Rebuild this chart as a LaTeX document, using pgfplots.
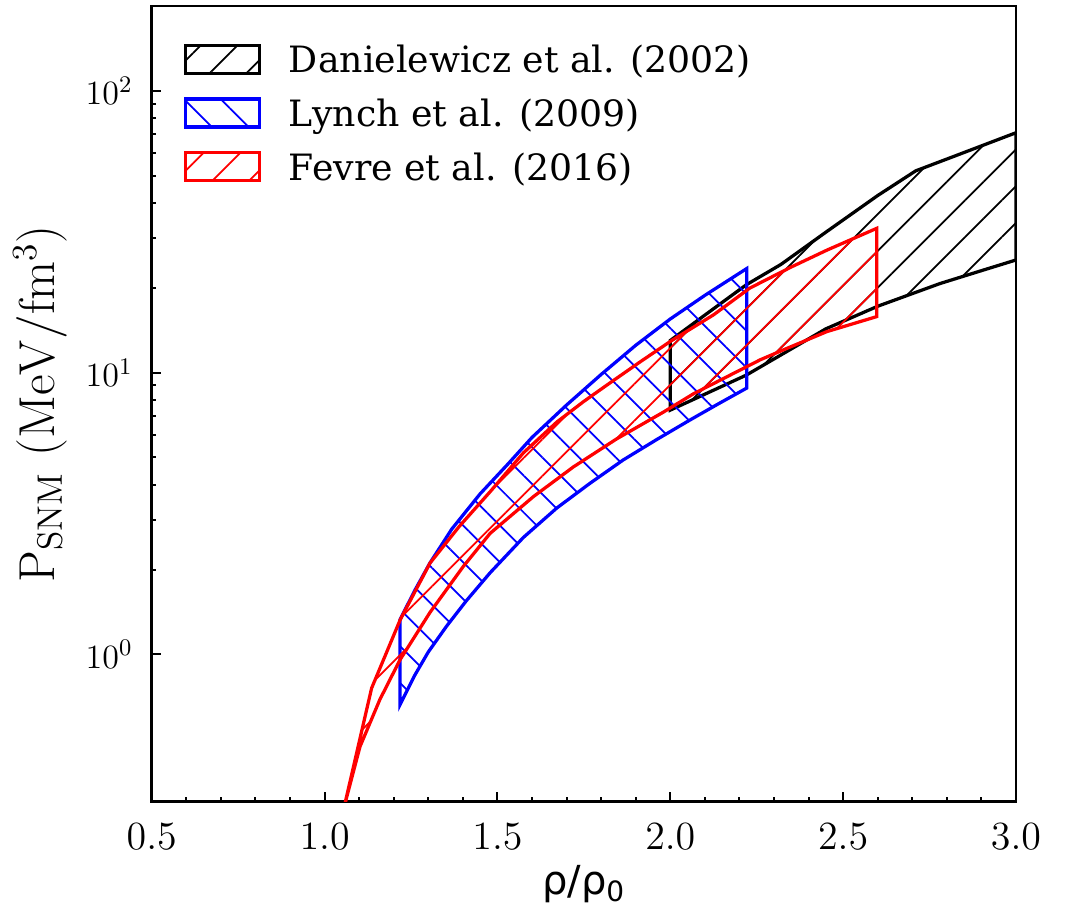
\RequirePackage{fix-cm}
\documentclass[border=0pt]{standalone}
\usepackage[no-math]{fontspec}
\setmainfont{DejaVu Serif}
\newfontfamily\dvsans{DejaVu Sans}
\usepackage{pgfplots}
\pgfplotsset{compat=1.18}
\usetikzlibrary{patterns.meta}
\begin{document}
\begin{tikzpicture}
\begin{axis}[
  at={(0,0)}, anchor=south west,
  scale only axis, width=345.7pt, height=318.3pt,
  xmin=0.5, xmax=3, ymin=0.3, ymax=200, ymode=log,
  xtick={0.5,1,1.5,2,2.5,3}, minor x tick num=4,
  ytick={1,10,100},
  xtick pos=bottom, ytick pos=left,
  tick align=inside,
  major tick length=3.8pt, minor tick length=1.8pt,
  every tick/.style={black, line width=0.8pt},
  axis line style={line width=1pt},
  tick label style={inner sep=0pt},
  xticklabel style={font=\fontsize{16}{19}\selectfont, /pgf/number format/.cd, fixed, fixed zerofill, precision=1},
  yticklabel style={font=\fontsize{13.6}{16}\selectfont},
  xticklabel shift=8.4pt, yticklabel shift=7.5pt,
  every axis x label/.style={at={(axis description cs:0.5,-0.1033)}, anchor=center, font=\fontsize{16}{19}\selectfont},
  every axis y label/.style={at={(axis description cs:-0.1292,0.5)}, rotate=90, anchor=center, font=\fontsize{20.2}{24}\selectfont},
  xlabel={{\dvsans ρ/ρ\textsubscript{0}}},
  ylabel={$\mathrm{P_{SNM}\ (MeV/fm^{3})}$},
  legend style={at={(axis description cs:0,1)}, anchor=north west, xshift=12.6pt, yshift=-14.9pt,
    draw=none, fill=none, inner sep=0pt, row sep=9pt, column sep=11.2pt,
    font=\fontsize{14.5}{17}\selectfont,
    nodes={inner sep=0pt, text height=10.6pt, text depth=0pt}, cells={anchor=west}},
  legend image code/.code={\draw[#1] (0pt,-5.6pt) rectangle (29.6pt,5.6pt);},
]
\addplot[draw=black, line width=1.3pt, line join=miter,
  pattern={Lines[angle=45,distance=10.4pt,line width=0.7pt]}, pattern color=black]
  coordinates {(2.0,7.36) (2.0,13.0) (2.1,16.0) (2.22,20.5) (2.32,24.2) (2.45,31.5) (2.6,42.5) (2.71,52.0) (2.82,58.5) (3.0,71.0)
  (3.0,25.1) (2.9,23.0) (2.78,20.7) (2.6,17.2) (2.45,14.3) (2.22,9.8)} -- cycle;
\addlegendentry{Danielewicz et al. (2002)}
\addplot[draw=blue, line width=1.3pt, line join=miter,
  pattern={Lines[angle=-45,distance=10.4pt,line width=0.7pt]}, pattern color=blue]
  coordinates {(1.218,1.326) (1.26,1.679) (1.305,2.113) (1.368,2.786) (1.45,3.715) (1.53,4.732) (1.60,5.888) (1.70,7.674) (1.80,9.85) (1.90,12.5) (2.00,15.5) (2.10,18.8) (2.221,23.4)
  (2.221,8.81) (2.14,7.76) (2.057,6.79) (1.961,5.79) (1.864,4.90) (1.768,4.05) (1.672,3.31) (1.575,2.60) (1.479,1.95) (1.41,1.55) (1.353,1.26) (1.30,1.02) (1.26,0.84) (1.218,0.662)} -- cycle;
\addlegendentry{Lynch et al. (2009)}
\addplot[draw=red, line width=1.3pt, line join=miter,
  pattern={Lines[angle=45,distance=10.4pt,line width=0.7pt]}, pattern color=red]
  coordinates {(1.05,0.25) (1.059,0.296) (1.136,0.759) (1.219,1.33) (1.305,2.11) (1.39,2.85) (1.479,3.78) (1.575,5.19) (1.672,6.68) (1.749,7.89) (1.816,9.02) (1.912,10.9) (2.0,12.9) (2.125,16.03) (2.23,19.95) (2.35,23.7) (2.453,27.2) (2.597,32.5)
  (2.597,15.8) (2.453,13.98) (2.327,12.04) (2.26,11.1) (2.067,8.41) (1.98,7.24) (1.845,5.82) (1.72,4.63) (1.604,3.63) (1.479,2.69) (1.401,2.05) (1.305,1.41) (1.218,0.956) (1.16,0.692) (1.1025,0.471) (1.062,0.305)} -- cycle;
\addlegendentry{Fevre et al. (2016)}
\end{axis}
\pgfresetboundingbox
\path (-60.7pt,-42.5pt) rectangle (367.7pt,320.7pt);
\end{tikzpicture}
\end{document}
